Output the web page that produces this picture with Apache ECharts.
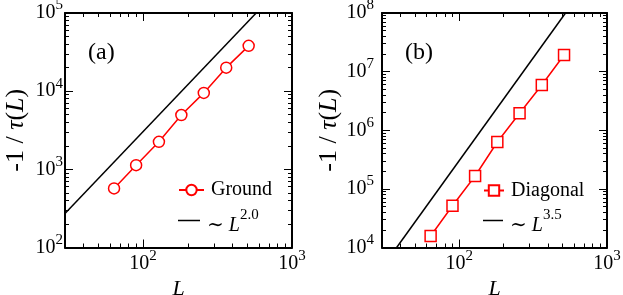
<!DOCTYPE html>
<html><head><meta charset="utf-8">
<script src="https://cdn.jsdelivr.net/npm/echarts@6/dist/echarts.min.js"></script>
<style>html,body{margin:0;padding:0;background:#fff}#c{width:623px;height:295px}</style>
</head><body><div id="c"></div><script>
// ---- data ----
const sizesL = [64, 90, 128, 181, 256, 362, 512];
const groundTau = [570, 1130, 2250, 4950, 9500, 20000, 38000];
const diagonalTau = [15700, 51600, 166000, 630000, 1950000, 5900000, 19200000];
const guideA_L = [30, 575];
const guideA_tau = [272, 100000];
const guideB_L = [37.7, 524];
const guideB_tau = [10000, 100000000];
const xRange = [30, 1000];
const yRangeA = [100, 100000];
const yRangeB = [10000, 100000000];
const xMajor = [100, 1000];
const yMajorA = [100, 1000, 10000, 100000];
const yMajorB = [10000, 100000, 1000000, 10000000, 100000000];
const panelLabels = ['(a)', '(b)'];

// ---- helpers ----
const lg = Math.log10;
const FONT = 'Liberation Serif, DejaVu Serif, serif';
function pts(xs, ys) { return xs.map((x, i) => [lg(x), lg(ys[i])]); }
function minors(lo, hi) {
  const out = [];
  for (let e = Math.floor(lg(lo)); e < Math.ceil(lg(hi)); e++) {
    for (let k = 2; k <= 9; k++) {
      const v = k * Math.pow(10, e);
      if (v > lo * 1.0001 && v < hi * 0.9999) out.push(lg(v));
    }
  }
  return out;
}
const labelRich = {
  b: { fontFamily: FONT, fontSize: 20, lineHeight: 30, color: '#000' },
  s: { fontFamily: FONT, fontSize: 15, lineHeight: 15, verticalAlign: 'top', color: '#000' }
};
const fmtPow = v => '{b|10}{s|' + Math.round(v) + '}';

function axis(grid, pos, range, ticks, len, labelVals, margin, name, nameGap, nameRich, nameRotate) {
  const a = {
    type: 'value', gridIndex: grid, position: pos,
    min: lg(range[0]), max: lg(range[1]),
    axisLine: { show: len > 5, onZero: false, lineStyle: { color: '#000', width: 2 } },
    axisTick: { show: true, inside: true, length: len, customValues: ticks, lineStyle: { color: '#000', width: 1 } },
    axisLabel: labelVals ? { show: true, customValues: labelVals, formatter: fmtPow, rich: labelRich, margin: margin } : { show: false },
    splitLine: { show: false }
  };
  if (name) {
    a.name = name; a.nameLocation = 'middle'; a.nameGap = nameGap;
    a.nameTextStyle = { rich: nameRich, fontFamily: FONT, color: '#000' };
    if (nameRotate) a.nameRotate = nameRotate;
  }
  return a;
}

const yNameRich = {
  n: { fontFamily: FONT, fontSize: 26, color: '#000' },
  i: { fontFamily: FONT, fontSize: 26, fontStyle: 'italic', color: '#000' }
};
const xNameRich = {
  i: { fontFamily: FONT, fontSize: 22, fontStyle: 'italic', color: '#000' }
};
const yName = '{n|-1 / }{i|τ}{n|(}{i|L}{n|)}';
const xName = '{i|L}';

const panels = [
  { left: 65, width: 227, yRange: yRangeA, yMajor: yMajorA, ymargin: 2, yGap: 36 },
  { left: 382, width: 225, yRange: yRangeB, yMajor: yMajorB, ymargin: 8, yGap: 36 }
];
const grids = [], xAxes = [], yAxes = [];
panels.forEach((p) => {
  const gMain = grids.length;
  grids.push({ left: p.left, top: 13, width: p.width, height: 234.5, containLabel: false, outerBoundsMode: 'none' });
  const gMin = grids.length;
  grids.push({ left: p.left, top: 13, width: p.width, height: 234.5, containLabel: false, outerBoundsMode: 'none' });
  const xMaj = xMajor.map(lg), yMaj = p.yMajor.map(lg);
  const xMin = minors(xRange[0], xRange[1]), yMin = minors(p.yRange[0], p.yRange[1]);
  xAxes.push(axis(gMain, 'bottom', xRange, xMaj, 8, xMaj, 1, xName, 27, xNameRich));
  xAxes.push(axis(gMain, 'top', xRange, xMaj, 8, null));
  yAxes.push(axis(gMain, 'left', p.yRange, yMaj, 8, yMaj, p.ymargin, yName, p.yGap, yNameRich, 90));
  yAxes.push(axis(gMain, 'right', p.yRange, yMaj, 8, null));
  xAxes.push(axis(gMin, 'bottom', xRange, xMin, 4, null));
  xAxes.push(axis(gMin, 'top', xRange, xMin, 4, null));
  yAxes.push(axis(gMin, 'left', p.yRange, yMin, 4, null));
  yAxes.push(axis(gMin, 'right', p.yRange, yMin, 4, null));
  p.xi = xAxes.length - 4; p.yi = yAxes.length - 4;
});

const series = [
  { name: 'L2', type: 'line', xAxisIndex: panels[0].xi, yAxisIndex: panels[0].yi, data: pts(guideA_L, guideA_tau),
    symbol: 'none', color: '#000', lineStyle: { color: '#000', width: 1.5 }, z: 2, silent: true },
  { name: 'Ground', type: 'line', xAxisIndex: panels[0].xi, yAxisIndex: panels[0].yi, data: pts(sizesL, groundTau),
    symbol: 'circle', symbolSize: 11, color: '#f00', lineStyle: { color: '#f00', width: 1.5 },
    itemStyle: { color: '#fff', borderColor: '#f00', borderWidth: 1.5 }, z: 3, silent: true },
  { name: 'L35', type: 'line', xAxisIndex: panels[1].xi, yAxisIndex: panels[1].yi, data: pts(guideB_L, guideB_tau),
    symbol: 'none', color: '#000', lineStyle: { color: '#000', width: 1.5 }, z: 2, silent: true },
  { name: 'Diagonal', type: 'line', xAxisIndex: panels[1].xi, yAxisIndex: panels[1].yi, data: pts(sizesL, diagonalTau),
    symbol: 'rect', symbolSize: 11, color: '#f00', lineStyle: { color: '#f00', width: 1.5 },
    itemStyle: { color: '#fff', borderColor: '#f00', borderWidth: 1.5 }, z: 3, silent: true }
];

const legendRich = {
  n: { fontFamily: FONT, fontSize: 20, lineHeight: 24, color: '#000', padding: [0, 0, 0, 2] },
  t: { fontFamily: FONT, fontSize: 20, lineHeight: 30, verticalAlign: 'bottom', color: '#000', padding: [0, 0, 0, 2] },
  i: { fontFamily: FONT, fontSize: 20, lineHeight: 30, verticalAlign: 'bottom', fontStyle: 'italic', color: '#000' },
  s: { fontFamily: FONT, fontSize: 15, lineHeight: 15, verticalAlign: 'top', color: '#000', padding: [2, 0, 0, 0] }
};
const legendFmt = name => name === 'L2' ? '{t|∼ }{i|L}{s|2.0}' : name === 'L35' ? '{t|∼ }{i|L}{s|3.5}' : '{n|' + name + '}';
function leg(name, left, top, w, h, icon) {
  const d = { name: name }; if (icon) d.icon = icon;
  return { data: [d], left: left, top: top, itemWidth: w, itemHeight: h, padding: 0, selectedMode: false,
    orient: 'vertical', formatter: legendFmt, textStyle: { color: '#000', fontFamily: FONT, fontSize: 20, rich: legendRich } };
}
const legends = [
  leg('Ground', 178, 180, 25, 13),
  leg('L2', 178, 205.5, 22, 1.5, 'rect'),
  leg('Diagonal', 483, 180.5, 20, 13),
  leg('L35', 483, 205.5, 20, 1.5, 'rect')
];

const titles = panelLabels.map((t, i) => ({ text: t, left: i === 0 ? 88 : 405, top: 41, padding: 0,
  textStyle: { fontFamily: FONT, fontSize: 24, fontWeight: 'normal', color: '#000' } }));

const chart = echarts.init(document.getElementById('c'), null, { renderer: 'canvas' });
chart.setOption({
  animation: false, backgroundColor: '#fff',
  title: titles, legend: legends, grid: grids, xAxis: xAxes, yAxis: yAxes, series: series
});
</script></body></html>
